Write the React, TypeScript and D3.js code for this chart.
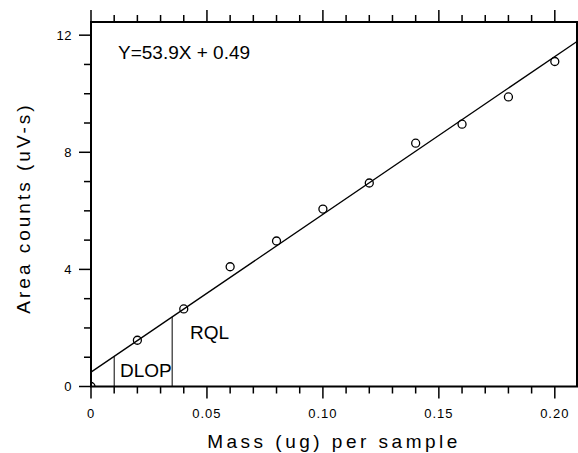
import React, { useEffect, useRef } from "react";
import * as d3 from "d3";

const massValues = [0, 0.02, 0.04, 0.06, 0.08, 0.1, 0.12, 0.14, 0.16, 0.18, 0.2];
const areaValues = [0, 1.58, 2.65, 4.09, 4.97, 6.06, 6.95, 8.31, 8.96, 9.89, 11.1];
const slope = 53.9;
const intercept = 0.49;
const dlopMass = 0.01;
const rqlMass = 0.035;
const xMajorTicks = [0, 0.05, 0.1, 0.15, 0.2];
const xMinorTicks = d3.range(0, 0.2001, 0.01);
const yMajorTicks = [0, 4, 8, 12];
const yMinorTicks = d3.range(0, 12.01, 1);

const FONT = "'Liberation Sans', Arial, sans-serif";

const CalibrationChart = () => {
  const svgRef = useRef<SVGSVGElement>(null);

  useEffect(() => {
    const svg = d3.select(svgRef.current);
    svg.selectAll("*").remove();

    const left = 91;
    const right = 577;
    const top = 22;
    const bottom = 386.5;

    const x = d3.scaleLinear().domain([0, 0.21]).range([left, 578]);
    const y = d3.scaleLinear().domain([0, 12.45]).range([bottom, top]);
    const fit = (m: number) => slope * m + intercept;

    svg
      .append("defs")
      .append("clipPath")
      .attr("id", "plot-clip")
      .append("rect")
      .attr("x", left)
      .attr("y", top)
      .attr("width", right - left)
      .attr("height", bottom - top);

    const plot = svg.append("g").attr("clip-path", "url(#plot-clip)");

    // regression line
    plot
      .append("line")
      .attr("x1", x(0))
      .attr("y1", y(fit(0)))
      .attr("x2", x(0.21))
      .attr("y2", y(fit(0.21)))
      .attr("stroke", "#000")
      .attr("stroke-width", 1.3);

    // DLOP / RQL markers up to the fit line
    [dlopMass, rqlMass].forEach((m) => {
      plot
        .append("line")
        .attr("x1", x(m))
        .attr("x2", x(m))
        .attr("y1", y(0))
        .attr("y2", y(fit(m)))
        .attr("stroke", "#000")
        .attr("stroke-width", 1);
    });

    plot
      .selectAll("circle")
      .data(massValues.map((m, i) => [m, areaValues[i]]))
      .join("circle")
      .attr("cx", (d) => x(d[0]))
      .attr("cy", (d) => y(d[1]))
      .attr("r", 4)
      .attr("fill", "none")
      .attr("stroke", "#000")
      .attr("stroke-width", 1.3);

    // frame
    svg
      .append("rect")
      .attr("x", left)
      .attr("y", top)
      .attr("width", right - left)
      .attr("height", bottom - top)
      .attr("fill", "none")
      .attr("stroke", "#000")
      .attr("stroke-width", 2);

    const ticks = svg.append("g").attr("stroke", "#000").attr("stroke-width", 1.5);

    // bottom + top ticks
    xMinorTicks.forEach((t) => {
      const major = xMajorTicks.some((m) => Math.abs(m - t) < 1e-9);
      const len = major ? 12 : 7;
      ticks.append("line").attr("x1", x(t)).attr("x2", x(t)).attr("y1", bottom).attr("y2", bottom + len);
      ticks.append("line").attr("x1", x(t)).attr("x2", x(t)).attr("y1", top).attr("y2", top - len);
    });

    // left ticks
    yMinorTicks.forEach((t) => {
      const major = yMajorTicks.includes(t);
      const len = major ? 12 : 7;
      ticks.append("line").attr("x1", left).attr("x2", left - len).attr("y1", y(t)).attr("y2", y(t));
    });

    svg
      .append("g")
      .selectAll("text")
      .data(xMajorTicks)
      .join("text")
      .attr("x", (d) => x(d))
      .attr("y", 418)
      .attr("text-anchor", "middle")
      .attr("font-family", FONT)
      .attr("font-size", 13)
      .attr("letter-spacing", 1)
      .text((d) => (d === 0 ? "0" : d.toFixed(2)));

    svg
      .append("g")
      .selectAll("text")
      .data(yMajorTicks)
      .join("text")
      .attr("x", 72)
      .attr("y", (d) => y(d) + 4.5)
      .attr("text-anchor", "end")
      .attr("font-family", FONT)
      .attr("font-size", 13)
      .attr("letter-spacing", 0.5)
      .text((d) => String(d));

    const label = (txt: string, lx: number, ly: number) =>
      svg
        .append("text")
        .attr("x", lx)
        .attr("y", ly)
        .attr("font-family", FONT)
        .attr("font-size", 19)
        .text(txt);

    label(`Y=${slope}X + ${intercept}`, 118, 59);
    label("DLOP", 120, 377);
    label("RQL", 190, 339);

    svg
      .append("text")
      .attr("x", 334)
      .attr("y", 448)
      .attr("text-anchor", "middle")
      .attr("font-family", FONT)
      .attr("font-size", 19)
      .attr("letter-spacing", 3.5)
      .text("Mass (ug) per sample");

    svg
      .append("text")
      .attr("transform", "translate(30, 208) rotate(-90)")
      .attr("text-anchor", "middle")
      .attr("font-family", FONT)
      .attr("font-size", 19)
      .attr("letter-spacing", 3)
      .text("Area counts (uV-s)");
  }, []);

  return (
    <svg
      ref={svgRef}
      width={578}
      height={453}
      style={{ position: "absolute", left: 0, top: 0, background: "#fff" }}
    ></svg>
  );
};

export default function App() {
  return <CalibrationChart />;
}
